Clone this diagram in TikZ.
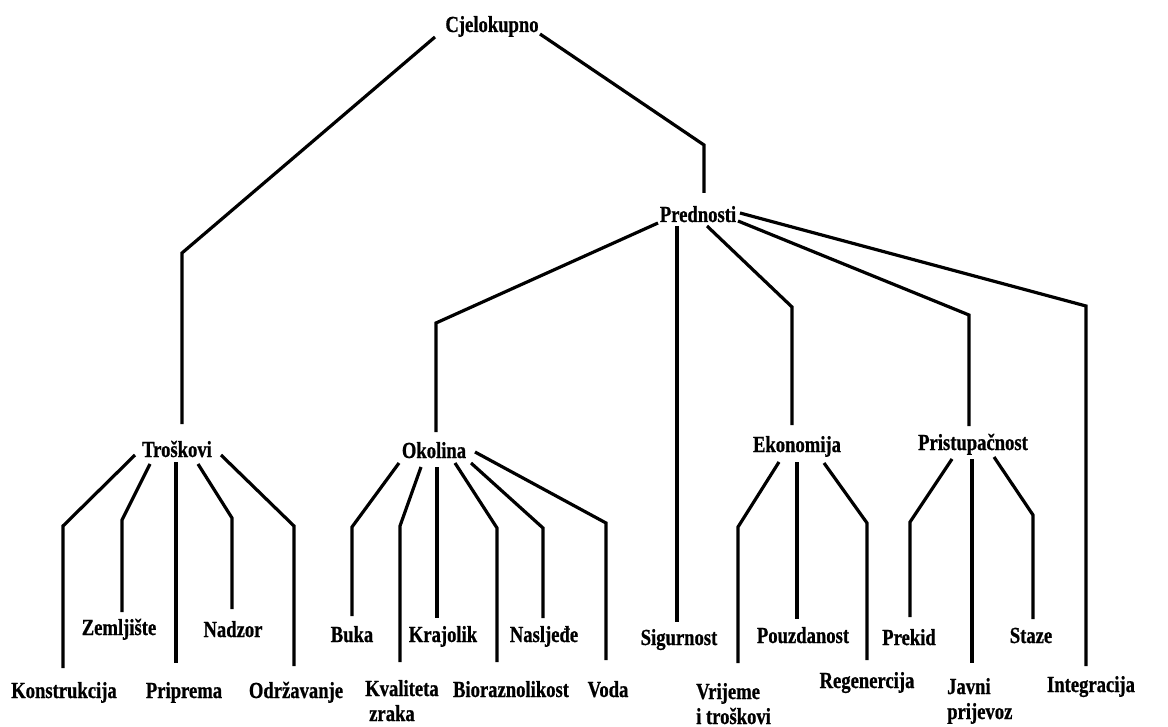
\documentclass[tikz,border=0pt]{standalone}
\usepackage{fontspec}
\setmainfont{Liberation Serif}[FakeStretch=0.81, BoldFeatures={FakeBold=0.8}]
\tikzset{
  label_/.style = {font=\bfseries\fontsize{23}{25}\selectfont, inner sep=0pt, anchor=base},
  link_/.style  = {draw, line width=3.2pt, line join=miter}
}
\begin{document}
\begin{tikzpicture}[x=1pt, y=-1pt]
	\useasboundingbox (0,0) rectangle (1168,727);
	\node [label_] (cje) at (492,32) {Cjelokupno};
	\node [label_] (pre) at (698,222) {Prednosti};
	\node [label_] (tro) at (177,457) {Troškovi};
	\node [label_] (oko) at (434,458) {Okolina};
	\node [label_] (eko) at (797,452) {Ekonomija};
	\node [label_] (pri) at (973,450) {Pristupačnost};
	\node [label_] (kon) at (64,698) {Konstrukcija};
	\node [label_] (zem) at (119,635) {Zemljište};
	\node [label_] (ppr) at (184,698) {Priprema};
	\node [label_] (nad) at (233,637) {Nadzor};
	\node [label_] (odr) at (296,698) {Održavanje};
	\node [label_] (buk) at (352,642) {Buka};
	\node [label_, anchor=base west, align=left] (kva) at (365,721) {Kvaliteta\\\hspace*{4pt}zraka};
	\node [label_] (kra) at (443,642) {Krajolik};
	\node [label_] (bio) at (511,697) {Bioraznolikost};
	\node [label_] (nas) at (544,642) {Nasljeđe};
	\node [label_] (vod) at (608,697) {Voda};
	\node [label_] (sig) at (679,645) {Sigurnost};
	\node [label_, anchor=base west, align=left] (vri) at (696,724) {Vrijeme\\i troškovi};
	\node [label_] (pou) at (803,643) {Pouzdanost};
	\node [label_] (reg) at (867,688) {Regenercija};
	\node [label_] (pkd) at (909,645) {Prekid};
	\node [label_, anchor=base west, align=left] (jav) at (947,719) {Javni\\prijevoz};
	\node [label_] (sta) at (1031,643) {Staze};
	\node [label_] (int) at (1091,692) {Integracija};
	\foreach \p/\sx/\sy/\bx/\by/\c/\g in {
		cje/-57/5/182/253/tro/33, cje/48/2/704/145/pre/29,
		pre/-40/1/436/323/oko/26, pre/-21/4/677/226/sig/23, pre/9/4/792/307/eko/27,
		pre/40/-1/969/315/pri/24, pre/42/-9/1086/306/int/26,
		tro/-42/-2/63/526/kon/30, tro/-27/7/122/520/zem/23, tro/-1/5/176/462/ppr/35,
		tro/21/7/232/518/nad/28, tro/44/-2/294/526/odr/32,
		oko/-35/5/352/527/buk/26, oko/-13/9/400/526/kva/59, oko/3/9/437/467/kra/24,
		oko/21/5/497/528/bio/35, oko/37/5/543/528/nas/24, oko/41/-6/606/523/vod/37,
		eko/-18/10/738/527/vri/61, eko/0/10/797/462/pou/24, eko/27/11/867/523/reg/28,
		pri/-21/9/910/522/pkd/28, pri/-1/9/972/459/jav/56, pri/21/7/1033/515/sta/24}
	{
		\coordinate (bend) at (\bx,\by);
		\coordinate (tip) at ([yshift=\g pt]\c.base);
		\draw [link_] ([shift={(\sx,\sy)}]\p.base) -- (bend) -- (bend |- tip);
	}
\end{tikzpicture}
\end{document}
